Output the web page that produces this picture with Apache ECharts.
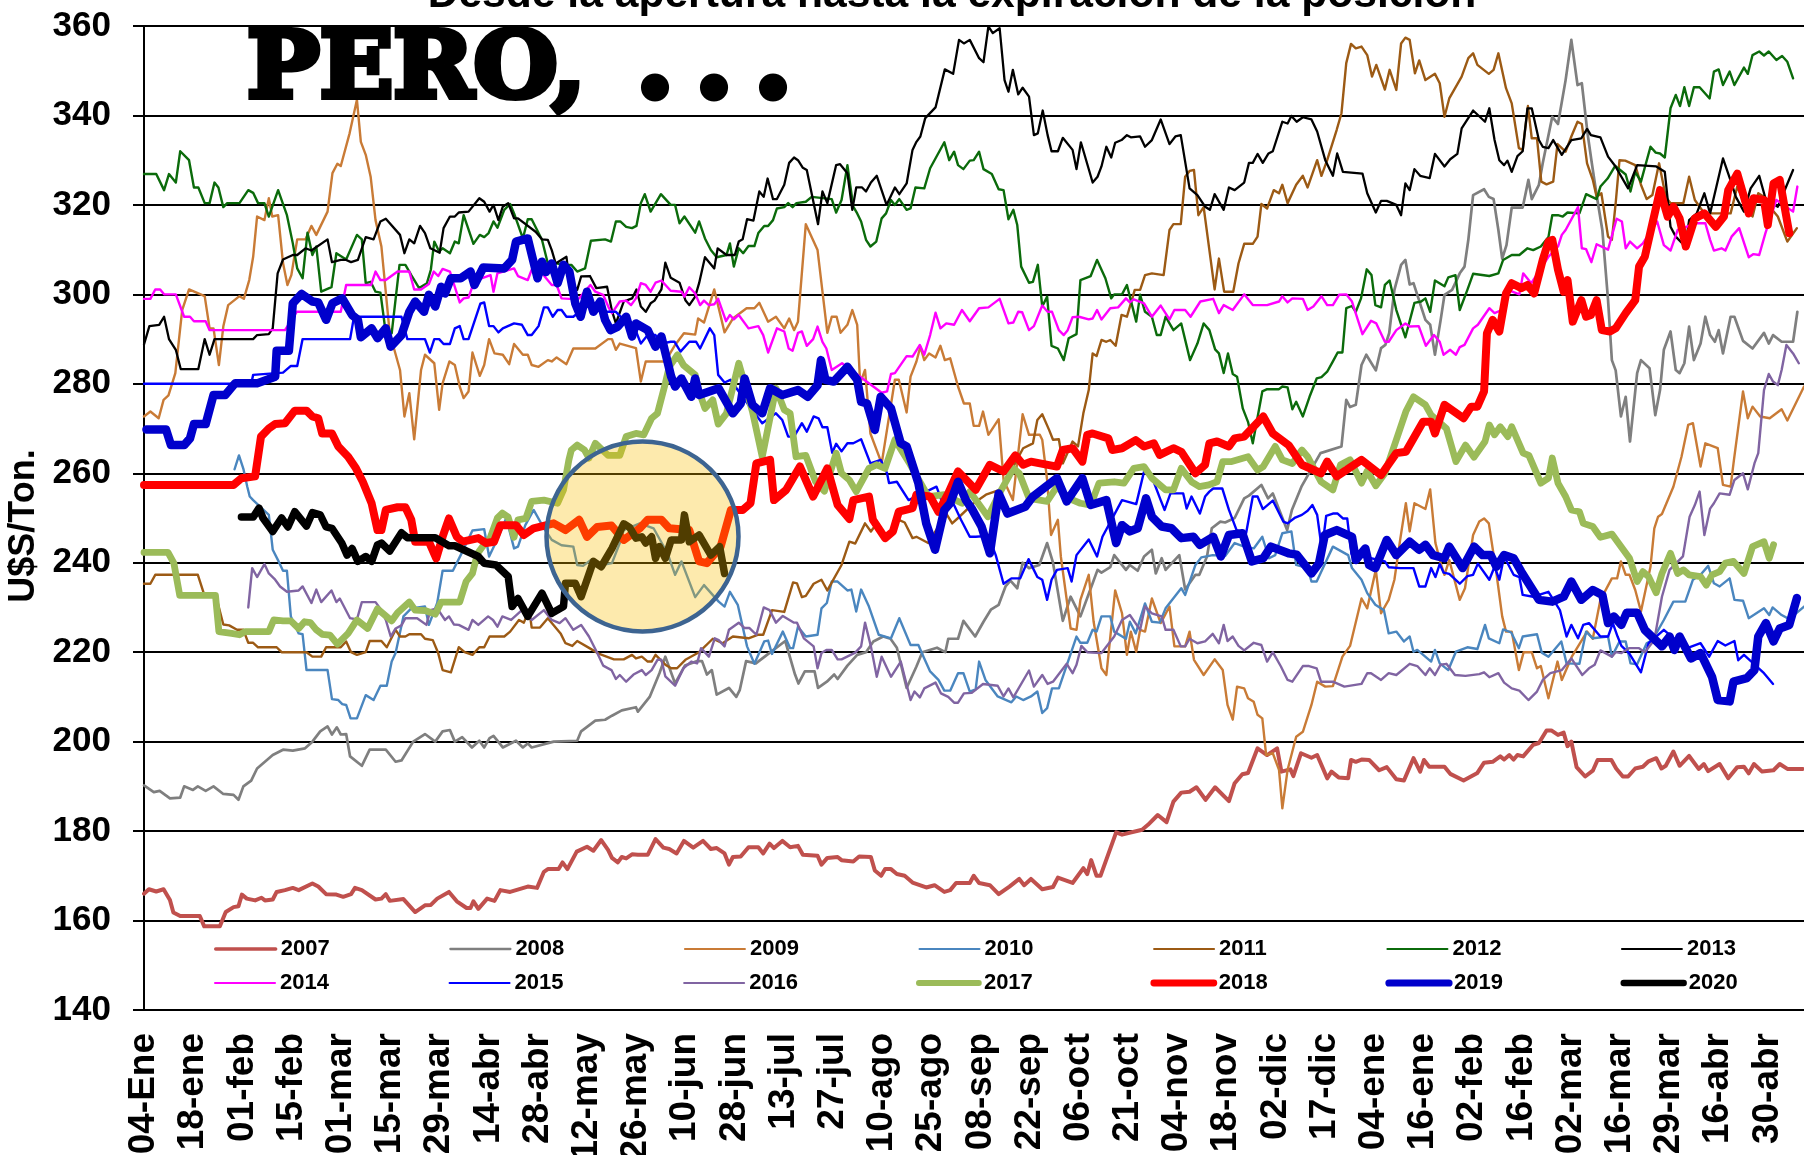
<!DOCTYPE html>
<html><head><meta charset="utf-8"><style>html,body{margin:0;padding:0;background:#fff;overflow:hidden}#c{width:1804px;height:1155px}</style>
<script src="https://cdn.jsdelivr.net/npm/echarts@6/dist/echarts.min.js"></script></head><body><div id="c"></div><script>
const tickLabels=['04-Ene','18-ene','01-feb','15-feb','01-mar','15-mar','29-mar','14-abr','28-abr','12-may','26-may','10-jun','28-jun','13-jul','27-jul','10-ago','25-ago','08-sep','22-sep','06-oct','21-oct','04-nov','18-nov','02-dic','17-dic','04-ene','16-ene','02-feb','16-feb','02-mar','16-mar','29-mar','16-abr','30-abr'];
// each series: flat list of day-index, price, day-index, price ...
const y2007=[0,166,1,167,2.5,166.5,4,167,5.3,164.6,6,161.8,7.4,161,11.4,161,12.3,158.7,15.5,158.7,16.7,161.9,18.3,163,19.3,163.2,20,165.8,21,164.9,22.7,164.5,24,165.1,24.7,164.5,26.3,164.7,27.1,166.4,28.8,166.8,30.4,167.3,31.6,166.8,34.4,168.3,35.6,167.6,37.2,165.9,39.3,165.8,40.7,165.3,42.3,165.9,43.1,167.3,44.5,166.8,47.3,164.7,48.5,164.9,49.4,165.9,50.2,164.4,53,164.8,55.4,161.9,57.4,163.4,58.6,163.5,59.9,164.9,62.3,166.4,63.9,164.3,65.9,162.8,66.7,162.8,67.3,164.3,68.3,162.6,70.1,164.9,71.6,164.4,72.8,166.8,74.8,166.4,78.4,167.6,80.3,167.3,81.7,170.9,82.5,171.5,84.7,171.5,85.5,173,86.5,171.5,88.4,175.4,90.5,176.5,91.8,175.6,93.4,178,94.8,175.8,95.6,174,96.8,173,97.6,174.2,98.5,173.9,99.7,174.8,100.9,174.7,102.9,174.7,104.5,178.2,106.1,176.3,107.3,176,108.8,175,110.3,177.8,112.2,176.3,114.2,177.8,115.8,176,117,176.2,118.6,175,119.5,172.5,120.3,174.2,121.9,174.3,123.5,176.4,125.5,176.4,126.5,175,127.8,177.2,128.7,176.2,130.4,177.8,132,176.4,133.6,176.7,134.6,174.7,137.6,174.5,138.4,172.5,139.6,174,141.7,174.2,142.5,173.5,144.9,173.2,146.1,174.3,148.5,174.2,149.3,171.2,150.6,170,151.4,171.5,152.6,171.5,153.8,170.4,155.4,170,157,168.5,159.8,167.4,161.5,167.9,163.5,166.4,164.7,166.8,165.9,168.4,168.7,168.4,169.5,170,170.6,168.4,172.8,167.9,174.6,165.9,176.8,167.6,178.8,169.3,179.8,167.9,181.2,169.3,183.5,167,185.7,167.5,186.7,169.6,189.7,168.4,191.9,171.7,192.7,170.4,193.5,173.5,194.6,170,195.4,170,198.6,179.7,199.8,179.2,203.9,180.3,205.1,181.4,207.1,183.6,208.9,182,210.3,186.6,211.9,188.6,213.6,188.8,215,189.8,216.9,187,218.9,189.8,221.8,186.7,223,190.7,224.6,192.7,225.8,193,227.8,198.5,229.8,197,231.9,198.5,232.8,193.3,234.7,193.8,235.3,192.3,236.9,197.4,239.1,196.4,240.3,197,242.4,191.8,243.3,193.3,244.8,192,246.8,191.8,247.4,195.9,248.4,195.5,249.6,196,251.2,195.9,253.3,193.6,254.9,194.3,256.9,191.6,258.5,191.3,260.5,196.3,261.9,193.3,262.7,195.9,263.8,194.4,267,194.4,268.2,192.8,271,191.3,273.9,193,275.3,195.3,277.1,195.5,278.7,196.7,279.5,196,280.6,197,281.5,196,282.3,197,283.5,196.7,285.6,199.3,286.8,199.7,288.4,202.5,289.4,202.5,290.8,201.5,292,202,292.8,199,293.6,200,294.7,194.3,296.5,192.2,298.1,193.5,299.1,195.9,302,195.9,303,194,304.4,192.2,305.5,192.2,307,194,308.6,194.4,309.8,195.6,311.4,196.3,312.5,194,313.4,194.6,315,197.8,316.3,194.6,318.3,196.8,320.3,193.9,321.4,195,322.3,193.4,324.7,195,326.5,191.8,328.4,194.3,329.8,194.4,330.8,192.9,331.9,195,333.6,193.3,336,193.6,337.3,195,338.9,193.9,342.1,193.9];
const y2008=[0,190.2,2,188.7,3.2,189,5.3,187.3,7.4,187.5,8.2,190,10,189.2,11,190,12.6,189,14.2,190,16.2,188.3,18.3,188.1,19.3,187,20.3,190,21.9,191.3,23.1,194,26.3,197,28.4,198.2,30.4,198,32.9,198.5,34.4,200,36,202.3,37.5,203.4,38.4,201.6,39.4,203.2,40.2,201.6,41.3,201.7,42.1,196.7,44.5,194.6,46.1,198.2,49.4,198.2,51.4,195.5,52.6,195.8,55,200,57.4,201.7,59.5,200,61,202.3,62.5,202.6,63.5,200,65,201,67,198.7,68.5,200.2,69.5,198.7,70.6,200.8,71.4,201.3,73.3,198.7,76,200.2,77.4,198.7,78.4,199.6,79.2,198.7,83.7,200,88.5,200.2,89.3,202.3,92.2,204.7,94.2,204.9,95.6,205.8,97.6,207,100.5,207.7,100.9,206.7,103.3,210,105.3,215.3,106.5,219,108.5,213,110.5,217,113,218,114,218,115,215,116,216,117,210.5,119.5,212,121,210,121.7,211.5,123,218,125,217.5,128,220,131,222.5,133,215,133.7,213,135,215.7,137,215.7,137.7,212,139.5,213.4,141,215,141.7,214,143.7,217,145.7,219.4,147.5,220,149,222.4,151,223.5,152.5,223,153.8,221,155.8,212,157.8,216.8,159,220,162,221,163.7,220,164.3,223,166.3,223,167.4,227,169.8,223.5,171.5,226.8,173,229.5,174.6,230.6,176,234.7,177,236,178.4,234.3,179.5,240,180.8,238.8,182.9,239.5,184.5,244.4,185.7,240,187.7,227,189.3,232.4,191.3,228,193.8,235.4,194.8,238.4,195.6,237.8,197.4,239,198.2,241.7,200.6,238.4,201.4,239.5,203,238.2,204.3,241.4,205.9,242.9,206.7,237.6,207.9,241,208.7,238.4,211.5,241.7,212.7,234,214.8,237.3,215.6,237.3,217.2,241.4,218.2,247.7,220,249.2,221,249,223,250,225,254.4,226,255,228.6,257.4,230,254.4,231,255.5,234,247.3,235,251.8,237,257,241,264.5,245.4,266,246.4,276.4,247.2,274.8,248.4,275.3,249.6,284.2,250.6,286.5,252.6,283,253.7,288,254.6,288.7,255.4,291.3,256.5,301,257.9,306.6,258.8,307.7,259.7,302.2,260.5,302.5,263,294.3,264,293.2,265,286.5,266.2,294.3,267,299.9,268.6,301,270.2,304.7,271.2,306.2,272,312.2,273,322.2,275.3,323.5,276.3,321.8,277.3,321.3,278.3,314.4,279.1,308,280,311,281.1,319.4,283.4,319.4,284.6,325.6,285.3,321.3,286.8,324.5,287.6,329.3,289.6,339.7,290.8,338.1,292.4,347.9,293.6,356.9,294.9,346.8,295.8,347.2,297,336,297.9,329.3,298.9,322.2,300.1,314.4,301.3,298.7,302.1,285.3,302.9,283,304,272.7,305,277.1,305.9,267.1,307.4,282.4,308.2,285.3,310,283.5,311.2,273,312.2,278.6,313,287.6,314.4,291.7,315.5,283.1,316.3,282.4,317.3,284.6,318.3,292.8,319.3,285.3,320.7,289,321.7,295,322.7,290.9,323.7,289.4,324.5,292,325.4,286.8,327,295,327.8,295,329.6,289.6,331.6,287.9,334,291.4,335,289,335.9,290.9,337.7,289.4,340.1,289.4,341,296.1];
const y2009=[0,272.7,1.3,273.8,3,272.3,4,276.4,5,277.4,6.4,282.4,7.8,296.5,9.2,301.1,12.4,299.6,13.4,292.4,14.2,292.4,15.3,284.2,16.2,292.8,17.2,297.6,19.5,299.6,20.4,299,21.5,303.2,22.3,308.4,23.1,317.4,24.6,316.6,25.5,321.5,26.2,317.4,27.4,317.7,28.4,307,29.3,302.1,30.1,304.3,31.3,312.3,33,312.3,34.2,315.3,35.2,313.3,37.5,318.5,38.5,327.1,39.5,329.2,40.2,328.7,42,336,43.5,343.5,44.3,334.1,45.3,331.2,46.3,326.3,47.3,316.6,48.5,310.7,50.2,291.3,52.3,283.1,53.2,272.7,54.2,277.9,55.2,267.6,56.6,283.1,57.4,286.5,59.3,284.6,60.3,274.2,61,280.1,62.4,285,63.5,284.2,64.5,279.4,65.3,276.8,66.3,278.3,67.1,287,68.6,281.8,69.5,284.2,70.5,290,71.6,286.8,73.3,286.5,74.6,284.4,75.6,288.9,77.4,286.5,78.4,286.5,79.2,284.2,80.6,283.8,82.5,285.3,83.3,285,84.3,285.9,86.3,284.4,87.7,287.9,92.2,287.9,94.8,290,95.6,290,96.4,287.6,97.2,289,100.5,288,101.5,280.5,102.5,285,106.5,285,108.5,288.7,110.3,291.3,112.6,291,113.2,294.6,114.4,293.7,116.5,301.1,118.6,291.5,120.3,294.6,123.1,296.9,124.7,296.9,125.7,298.1,127.5,293.9,129.1,295,130.8,292.4,131.8,294.6,132.8,292,133.6,293.9,135.2,315.7,137.6,309.9,139.6,291.4,140.5,295,141.5,295,142.3,291.4,143.7,293.2,144.7,296.5,145.7,293.2,146.3,280.1,147.3,283.1,148.4,268.9,150.7,262.2,153.4,280.9,154.2,280.9,155.8,273.6,156.6,281.6,157.8,285,158.6,288.3,159.4,285.3,160.4,286.8,161.7,285.9,162.7,288.5,163.6,285.3,164.7,285.7,166.3,279.4,167.5,275.6,168.7,275.6,169.5,270.6,170.6,270.6,171.4,273.8,172.5,268.6,174.6,272.1,175.6,258.5,177.5,254,179.5,273.2,180.8,268.6,183,268.6,183.5,267.5,184.5,258.5,185.3,246.2,186.7,249.6,187.3,241.4,189.3,225.3,190.5,225,191.3,231.7,193,237.3,194,226.8,195.6,216.4,196.6,214.9,198.4,233.8,199.8,228.7,200.8,219.4,201.6,224.6,202.7,220.1,203.5,225,204.5,224.6,205.9,232,207.7,226.5,209.5,230.2,210.5,221.3,212.7,221.3,213.6,224.6,214.5,218.3,216.5,214.9,218.8,218.4,220.5,216,221.5,208.2,222.6,204.9,223.5,212.3,225,211.9,225.8,209.7,227,208.9,227.8,206,228.8,205.2,229.6,197,231,197.4,232.3,193.7,233,185.1,234.1,193.7,235.9,201.1,237.3,202.2,239.1,208.2,240.3,213.4,242,212.3,243.6,212.4,245.6,219,247.2,221.4,249.6,232,250.8,229.8,252.6,238.4,253.7,228.7,255.3,231.7,256.5,236.2,257.7,245.1,258.9,253.3,259.7,247,260.7,253.3,263,252,264,256.4,265.1,244.4,266.2,239.9,267,237.3,268,240.6,270.2,231.7,271.3,234.3,273,246.2,274.3,249.2,275.3,249.9,276.3,248.8,277.9,237.6,279.1,228,279.9,224.6,281.1,224.6,282.6,216,283.6,220,285.3,220,286.4,216.4,287.2,216.9,288.8,209.7,290.7,217.9,291.6,213.8,293.7,219,296.9,224.6,298.1,223,299.7,231.7,302.1,236.5,303.2,236.5,304,240.3,305,237.3,305.8,237.3,307,233.9,308.2,229.1,310.2,239.1,311,247.7,311.8,250.3,312.6,250.9,315,257,316.7,263.7,318.1,270.8,319.1,271.2,320.7,261.5,321.7,266.7,324.3,265.6,325.4,257.4,327,257,327.7,263,329.6,278.3,330.6,272.3,331.6,274.9,333.2,272.7,335.2,272.3,337.7,274.3,338.9,271.8,342.4,279.4];
const y2010=[18.5,260.9,19.4,264,20.3,261,21.1,257,21.6,254.8,22.3,254,25.5,250.7,26.3,242.9,27.5,240.3,28.4,238.2,29.2,238.2,30,228,31.6,224.2,32.4,224,33.2,216,37.5,216,38.4,209.5,39.7,209.3,40.5,208.4,41.3,208.2,42.2,205.2,43.5,205.2,45.3,210.4,46.9,209.3,48.3,212.5,49.6,212.5,50.6,217.9,51.4,219.8,53,228,54.6,229.8,57.4,230.2,58.2,226.1,59.9,231,61,238.2,63.1,238.2,64.7,241.7,67.1,247.2,69.5,247.5,70.5,241.4,72.5,246,74,250,75.6,243.2,76.4,243.6,77.9,248.4,79.6,251.8,81.7,247.7,83.3,245.1,85.3,243.9,87.7,243.6,88.5,239.5,89.7,239.3,91.3,240.6,93.5,239.5,95.6,239.9,97.2,244.4,98,247.3,101.3,248.8,104.1,247.7,107,242,108.5,237.3,109.8,240.3,112.6,232.3,114.4,235,117.4,231.3,118.6,230.2,119.7,233.5,121.3,230.6,123.2,221.3,124.7,217.4,126.7,222.4,127.5,222.6,128.3,219.6,130.5,224.6,132,220.9,132.6,220.9,133.6,225.7,135.2,223.5,137.6,223.9,138.4,229.8,139.5,231,140.5,235.8,141.7,235.8,143.7,233.8,144.5,234,145.5,229.1,146.5,234,148.1,230.2,150.1,223.9,152.6,223.1,154.3,227.6,156.6,221.6,158.2,221.6,159.4,218.6,160.6,215.7,162.3,213.8,163.5,211.4,164.7,211.4,166.3,215.3,167.4,215.3,168.7,211.2,169.9,211.7,170.6,217.9,171.9,213.8,174.4,210.1,177.2,208.8,178.2,210.1,179.6,209.3,181.2,210.1,182.5,211.2,183.5,206.4,184.5,207.5,185.5,211.9,186.9,211.9,190.5,223.5,191.3,222.1,192.7,222.1,193.8,225,194.6,224.6,195.6,228,197.4,228,198.2,224.6,200.6,223,201.4,226.8,202.6,224.2,204.5,230.9,205.9,226.8,207.5,226.6,208.7,229.8,211.9,234.3,212.7,232.8,214.8,239.5,216,241.2,218.4,241.7,221,241.5,223,244.4,225,243.6,227,243.2,228.8,245.8,230.2,241,231.5,241.7,233,246.6,234.9,247,235.9,239.5,238.3,238.8,239.1,235.8,240.2,235.8,243.6,243.6,246.8,241.7,247.6,238.8,249.6,236.2,250.8,233.2,252.5,230.6,254.3,229.4,255.3,224.2,256.9,224.6,258.5,222.4,259.7,223.5,260.5,220.1,261.3,220.5,264.2,217.9,265,220.5,266,217.5,267.8,216,269.4,220.1,271.8,221.1,273.9,220.7,275.5,226.1,276.3,223.1,278.5,222,279.3,225.1,281,224.4,282.6,220.9,283.4,223.5,286.4,224,287.4,219.9,288.8,219,291.5,222.4,292.6,217.5,295.3,217.4,296.7,224.6,298.1,223.1,301.3,223.5,302.1,219,303.7,222.4,305,222.4,306,217.5,307.4,217.3,309.4,222,310.6,222.7,313,227.2,315,231.3,317.5,231.3,319.1,236.2,320.7,237.3,322.3,239.3,323.5,235.4,324.7,234.7,326.8,236.5,327.8,231.7,329.6,231.5,330.8,227.6,334,229.8,335.1,228.3,335.8,230,337.7,228.3,339.3,227.4,342.4,230.2];
const y2011=[0,235.3,1.3,235.3,2.3,237.3,11,237.3,12.2,233.2,14.6,233,16.2,226.2,17.4,226,19,225,20.3,225,21.3,222.1,22.3,222.1,23.3,221.1,27.1,221.1,28.1,220,33.2,220,34.4,219,36.2,219,37.2,221.1,40.2,221.1,41.3,222.4,42.3,220,43.5,219.4,45.3,220,46.1,222.5,48.5,222.5,49.6,221.1,51.4,225,52.3,223.5,53.4,223.5,54.2,224,56.6,224,57.4,223,59,222.7,60.1,219.8,61,216,62.7,215.5,64.3,221.1,65.5,220,67.1,219.4,68.5,221.1,69.5,221.1,70.6,223.5,73.6,223.5,74.8,224.6,76.6,227.2,77.6,226.6,78.7,229.5,79.2,225.5,80.9,225.5,82.5,227.6,85.1,224.2,86.1,222,87.5,221.4,88.5,222.5,91,220.9,93,219.6,96,218.4,98,218.4,99.7,219.4,100.5,218.6,101.7,219,102.9,217.9,103.7,217.9,104.5,219.4,106.5,217.2,107.7,216.4,108.9,216.4,110.6,218.3,113.4,220,116.2,223,118.2,222,120.3,223.5,123.5,223.1,125.5,223.9,126.5,223.9,128.3,229.4,130.8,229,132.6,235.6,133.4,235.4,134.4,232.3,135.2,232.6,136.8,235.3,138.4,236.2,139.6,233.8,142.5,239.5,144.1,244.7,145.3,244.3,147.3,248.8,148.5,247,149.7,248.8,151.4,245.1,154.2,249.6,155.4,249,157,245.5,157.8,245.8,160.2,244.4,163.9,251,165.1,248.8,166.3,250,169.5,253.3,172,255.2,174.8,256.3,177.2,260.7,179.6,265.6,181.6,266.7,182.5,271.9,183.5,273.2,184.9,269.7,185.7,267.5,186.9,267.6,187.7,262.2,189.7,267.1,190.8,266,191.9,273.4,193,278.6,193.8,286.8,194.6,286.2,195.6,289.8,196.6,289.4,197.4,289.8,198.5,288.5,199.7,295.4,200.8,295,201.8,298.7,202.4,301,203.5,301,204.5,304.3,205.9,304.7,208.3,304.3,209.5,314.4,210.3,315.7,211.8,315.7,212.7,326.3,213.6,327.6,214.5,327.8,215.4,317.7,216.5,319.5,217.7,309.9,218.8,301.1,219.7,308,220.8,300.6,222.7,300.6,223.8,306.9,225,311.3,226.8,311.3,227.8,312.9,228.6,320.2,229.8,319.2,231.2,323.3,232.3,322.6,233,324.5,234.1,320.4,235.9,324.5,237.3,326.5,238.3,323.9,240.3,330,241.2,326.5,242.4,330,244.4,336.8,245.4,340.5,246.4,351.7,247.4,356,248.4,355,249.6,355.4,250.8,353.5,251.8,348.7,252.7,351.3,254.5,345.8,255.5,350.2,256.9,345.7,257.9,356.1,258.8,357.4,259.7,356.9,260.8,349.4,261.7,352.3,263,347.9,265,349.3,266,347.2,267,339.7,268,343.8,270.6,348.7,272,352.8,273,353.9,273.9,351.3,276.3,349.3,277.3,350.2,278.3,353.9,279.9,346.1,281.1,342.7,282.6,332.7,283.4,332.3,284.5,342.1,285.3,334.9,286.4,334.9,287.3,325.2,288.4,324.6,289.8,325.2,290.7,333.6,292.4,331.9,293.6,335.3,294.9,338.6,295.8,338.1,296.9,329.3,298.1,325.6,298.9,321.8,299.9,322.6,301.3,312.9,302.1,312.2,302.9,320.4,303.7,330,304.9,329.9,307,328.9,308.2,324.5,309.4,321.3,310.6,322.2,312,329.3,313.4,321.8,314.4,320.4,317.1,320.4,318.3,326.3,319.5,321.1,321.5,318.1,323.9,318.1,327,318.1,328.4,324.1,330.4,318.9,331.6,317.4,332.8,322.6,334,321.8,335.2,319.6,336.9,317.4,338.9,311.8,340.9,314.8];
const y2012=[0,326.9,2.5,326.9,4.1,323.3,5.1,326.9,6.5,325,7.4,332,9.2,330,10.2,323.9,11.1,323.9,12.4,320.4,13.4,320.4,14.4,325,15.2,323.9,16.2,319.5,17,320.4,19.5,320.4,21.3,323.3,22.3,322.7,23.3,320.4,24.6,320.4,25.5,317.4,27.4,323.3,29.2,317.7,30.4,311.4,31.3,305.8,32.4,303.6,33.4,313.8,34.4,308.8,35.2,310.7,36.2,300.6,38.3,301.6,39.3,309.2,41.3,307.8,43.5,313.3,44.5,312.3,45.3,302.5,46.3,302.8,47.3,300.6,48.3,300.4,49.4,291.3,50.6,291.3,52.2,306.6,53.4,306.6,54.6,304.3,56.2,301.4,57.8,302.5,58.6,305.5,59.3,311.8,60.3,309.6,61,310.3,62.5,309.2,63.5,311.8,64.3,311.4,65.3,317.7,67.3,311.3,68.6,313.3,69.5,312.8,70.4,313.7,71.4,316.3,72.2,314.9,73.6,318.9,74.8,320.2,75.6,318.1,77.4,312.5,78.4,316.8,79.2,316.8,81.3,312.2,82.5,306.9,84.5,306.9,85.7,306.6,87.3,306.6,88.5,305.1,90.1,305.8,91.3,312,94.2,312.3,95.4,311.8,96.4,316.3,97.3,316.3,98.5,315.1,99.7,314.8,100.6,315.3,101.5,320.4,102.3,322.4,103.5,318.5,105.6,322.4,107.6,320,108.5,320,109.4,315.9,110.4,317.4,112.6,313.8,113.4,316.3,114.6,312.5,115.8,309.9,117,308.3,119,308.8,119.7,311.4,120.5,306.2,121.5,310.3,122.4,309.2,123.5,310.8,124.7,310.8,125.5,313.7,126.7,315.3,127.5,315.3,128.5,316.6,129.3,319.2,130.8,319.5,131.6,320.4,132.5,319.5,133.3,320.4,135.2,320.7,136.4,321.8,140.5,321.3,141.4,318.3,142.5,321.1,143.7,328.9,144.9,319.6,145.7,318.1,146.5,316.3,147.5,312.2,148.4,310.7,149.6,311.8,150.7,317,151.6,318.1,152.6,321.1,153.4,320,154.3,321.3,155.8,318.9,156.6,319.2,157.6,323.9,159.4,323.7,160.6,328.2,163.5,334,164.5,330,165.5,331.9,166.3,328.9,167.4,328,168.7,329.9,169.5,330,170.6,331.9,171.5,328,173.2,326.9,174.6,323.5,175.6,323.3,176.6,316.8,177.6,318.9,178.4,315.5,179.2,306.2,180.8,302.6,181.6,302.8,182.6,306.6,183.5,297.3,184.5,299.5,185.4,288.5,186.7,287.9,187.9,285.3,188.9,290.2,190.5,291.1,191.3,303.2,193.4,304.1,194.7,307.7,196.4,303.6,197.6,299.1,198.2,300,199.8,300,200.8,302.1,202.7,293.9,203.5,299.9,204.5,296.1,205.9,295,206.9,290.9,207.7,290.9,208.7,295,210.3,292,211.9,293.5,213.7,285.3,215.2,289,216.5,293.5,217.7,292,218.9,287.7,219.7,286.8,220.7,282.4,221.6,286.8,222.6,282.2,223.5,281.6,224.7,274.5,225.8,271.5,226.8,266.7,228.8,278.3,229.8,278.8,232.3,278.8,233,279.4,234.1,279.2,235.1,274.3,235.9,276,237.3,272.7,238.7,277.1,240.2,281.2,241.2,281.5,242.4,282.7,243.6,285,244.6,287,245.6,287,246.4,296.9,247.6,297.4,248.4,296.1,249.5,299.1,250.7,305.6,251.7,304.3,252.5,297.6,253.7,297.1,254.5,302.1,255.5,303.1,256.9,296.5,258.8,290.4,260.7,298.1,262.1,298.4,263,299.1,264,296.1,265,303.1,267,301.8,267.8,303.8,269.3,304.3,270.2,296.5,271.8,301,273,304.6,276.4,304.1,278.3,304.7,279.3,307.7,281.1,308.8,282.7,308.8,284.4,310.3,285.6,309.9,287.2,310.7,288.8,312.8,289.6,317.7,290.8,317.7,291.8,317.4,292.8,318.3,295.3,318.1,296.7,322.4,298.9,321.3,299.7,324.1,301.2,325.9,302.8,328.7,305,326.8,306,323,307,327.4,308.2,325.2,310.2,333,311.3,331.7,312.2,331.5,313.2,330.6,314.4,341.6,315.5,344.6,316.4,342.1,317.3,346.3,318.3,342.1,319.3,346.3,320.5,346.3,322.6,343.8,323.5,349.8,324.5,350.3,325.4,346.8,326.8,349.8,327.8,346.8,329.8,350.7,330.6,349.3,331.6,353.5,333,354.3,334,353.4,335,354.3,336.6,352.4,337.8,353.3,338.9,352,340.1,348.3];
const y2013=[0,288.8,1.1,292.9,3.1,293.2,4.1,295,5.1,290,6.5,287.6,7.5,283.3,11.1,283.3,12.4,290,13.4,286.5,14.4,290,22.3,290,23.1,290.9,25.5,291.1,26.3,292.4,27.3,304.7,28.4,307.8,30.4,308.8,31.3,308.8,33,310.3,34.2,309.8,37.5,312.3,38.4,307.2,40.2,307.7,41.3,307.7,42.3,307.2,43.7,307.7,45.3,312.8,46.9,312.3,48.3,316.3,49.4,316.9,52.3,313.3,53.2,309.2,54.2,312.3,55.2,311.4,56.4,315.3,57.4,313.7,58.5,310.3,60.4,309.3,61.2,314.8,62.5,317.4,63.5,317.4,64.3,318.3,66.3,318.5,68.5,321.5,69.5,320.7,70.6,318.5,71.4,320,72.4,316.6,73.3,319.6,74.4,320.4,75.6,317,76.4,317,80,314,81.3,312.3,82.5,312.2,83.3,309.9,84.1,306.9,86.3,308.4,86.9,303.2,88.5,301,89.3,304,91.1,304.1,92.4,301.4,94.6,301.7,95.6,296.3,96.4,293.5,98,298.4,99.7,299.1,100.6,301.1,101.5,297.3,102.5,296.1,103.5,298,104.3,298.6,105.7,301.1,106.5,307.1,107.6,303.7,109.4,302.6,110.6,298.7,111.4,297.6,112.6,299.5,113.4,302.5,114.6,308.3,116.5,305.8,117.2,310.3,119,308.8,120.7,308.8,121.5,311.8,122.3,312.3,123.2,316.8,124.5,316.5,125.7,323,126.6,321.8,127.4,325.9,128.5,321.3,129.3,321.3,130.8,324.5,131.8,329.4,132.8,330.6,133.6,330,134.6,328.3,135.4,327.8,137.7,315.7,138.6,323,139.6,320.4,141.4,328.9,142.2,329.1,143.7,327.1,144.7,318.9,145.5,323.9,146.7,323.9,147.5,323,148.5,325,149.7,326.5,151.7,320,153.4,323.9,154.3,322.4,155.8,324.8,157,332.3,157.8,334.1,158.6,335.3,159.6,339.4,161.7,341.8,163.6,350.3,165.3,349.3,166.5,356.9,167.5,356.1,168.7,356.9,170.6,352.8,171.5,351.9,172.5,359.9,173.4,358.4,174.8,359.5,175.8,347.9,176.6,345.3,177.5,350.2,178.6,344.7,179.5,346.2,180.8,344.2,181.8,335.6,182.6,336,183.6,341.1,184.6,335.6,185.4,332,186.7,332,187.7,335,189.7,332.3,190.5,328,191.4,334,193.8,325,194.8,326.3,195.6,328.6,196.6,333,197.6,330.6,198.4,333.9,199.7,334.5,200.8,335.6,201.6,335.1,203.5,335.3,204.5,333,205.9,334.5,207.7,339.1,209.5,333.6,210.7,335.3,211.8,335.6,213.6,323.7,215.2,322.2,216.8,319.6,217.8,318.9,218.8,322.4,220.7,318.9,221.8,323.9,223,323.3,225,325,226,329.4,226.8,329.4,227.8,331.4,228.9,329.4,230.1,331.5,231,332,233,338.6,234.1,338.2,234.9,339.9,236,338.6,237.3,339.6,239.1,339.1,240.3,336.4,242,330,243.6,326.5,244.5,331.5,245.7,327.4,249.8,327,250.8,322.6,252.6,318.3,253.7,320.9,254.9,320.9,256.9,320,257.9,317.7,258.8,324.8,259.7,323.3,260.7,328,261.9,326.5,263.9,326,265,331.4,267,328.6,268.2,330.2,269.7,331.4,270.6,337.1,273,341.1,275.5,338.6,276.4,341.6,277.5,334.5,278.5,330,279.5,328.9,280.2,329.9,281.1,327.4,282.3,330.9,283.4,332,284.4,341.6,285.3,341.6,286.8,334.5,287.6,333,288.8,332.7,289.8,334.5,291.6,331.2,293.6,334.5,295.7,334.9,296.9,337,297.7,335.6,299.7,335.1,301.3,330.8,302.8,328.7,305.5,323.7,307.4,328.9,311.4,328.6,313.2,327.4,314.4,315.1,315.5,312.9,317.5,310.7,318.3,316.6,319.9,318.1,321.5,322.6,322.7,318.1,325.4,330.4,327.2,324.8,328.1,321.8,329.8,318.5,331.2,323.7,333,326.5,334.4,321.1,336.9,319.6,340.1,327.8];
const y2014=[0,299,1.3,299,2.3,301.1,3.3,301.1,4.1,300,6.5,300,8.2,295,9.4,295,10.2,294,12.6,294,13.4,292,28.8,292,31.2,296.1,40.2,296.1,41.3,302.1,46.4,302.1,47.3,305.1,48.3,303.2,49.4,303.2,51.8,305.1,54.2,305.1,55.2,301.1,56.6,301.1,58.2,302.3,59.2,305.1,60.1,304.1,61,305.7,62.5,305.1,63.5,301.7,64.5,298.2,65.3,299.1,66.3,299.3,67.5,303,70.8,304.3,71.4,300.6,72.2,304.7,75.6,305.8,76.4,304.1,78.4,303.2,79.2,305.5,81,305.1,83.3,302.1,84.3,302.1,85.3,299.1,86.9,299,88.9,299.1,89.7,300.2,91.2,302.1,92.2,300.6,93.8,299.9,95,296.9,95.6,295.8,97.2,298.4,98.5,298.6,99.5,297.6,100.5,299.1,101.5,302.5,102.5,302.1,103.5,300.6,104.5,302.6,105.7,303.1,107.6,300.8,109.8,300.6,110.4,299.5,111.4,301.6,112.6,300.2,113.6,297.6,114.4,298.6,115.4,297.6,116.5,297.8,117.3,299,118.9,294,119.7,295.4,120.5,294.4,121.5,295.4,123.5,292.4,125.5,292.9,126.5,290.9,127.5,287,129.3,292.4,130.8,291.7,131.7,287.9,132.5,287.4,133.6,291.4,134.4,291.7,135.4,288.5,136.7,290,137.6,292.8,138.6,289.4,139.4,287.9,140.5,283.1,142.6,284.6,150.7,278,151.8,278.3,152.6,282.2,153.4,282.4,155.8,286.2,157,286.1,158.5,288.7,159.4,286.5,160.6,290.9,161.7,295.9,162.7,292.4,163.9,293.5,165.5,293.2,167.1,296.5,168.7,294,170.6,296.9,172.5,297.1,174.8,299,176.6,293.5,177.6,293.7,178.6,296.1,179.4,296,180.8,292,181.8,292.9,183.5,297.5,184.6,296.1,185.5,296.1,186.9,292,187.9,290.9,188.7,292,189.7,294.9,191,295,193,294.4,193.8,294.6,194.7,296.5,195.6,294.4,197.4,296.9,199,297.1,200.6,299.1,201.4,298.2,202.2,298.9,204.3,298,205.9,295,207.7,297.5,209.5,294.4,210.5,296.5,212.7,296.5,213.8,295,215.8,298.4,218.5,299,219.7,295.8,220.7,297.6,222.6,296.5,225,300,226.8,297.6,229.8,297.6,232.3,298.4,233,299.6,234.1,298.2,235.1,299.1,237.3,299,238.3,296.5,239.5,297.3,241.2,299.6,242.4,297.6,243.6,297.6,244.9,299.9,246.4,300,247.6,298.4,249.8,291.1,251.6,294.1,252.7,293.5,254.5,289.4,255.3,289.4,256.9,292,258.8,293.5,259.7,292.8,261.6,292.9,263.1,288.5,264.8,290.9,266,289.4,266.8,286.5,268.2,287.6,269.4,286.5,270.2,288.2,271.2,288.7,273,292.4,274,293.2,276.4,296.9,277.5,295.8,279,296.5,280.3,301,282.7,300,283.5,304.7,285.2,302.5,288.8,308.4,290.8,310.7,291.6,313.3,292.4,314.4,295,319.5,295.8,310.3,296.7,310.1,297.8,307.2,298.9,311.2,301.3,310,303.1,316.9,304.2,316.3,305,310.3,305.9,311.8,307.4,310.3,308.6,311.4,311.6,316.3,313,311,314.4,309.8,315.9,314.4,319.9,315.9,321.7,315.9,322.7,312.2,323.5,309.8,325.1,310.3,325.9,309.8,327.2,312.9,328.8,314.8,330.8,308.3,331.8,309,333,308.8,334.3,313.7,336.6,321.1,340.1,318.5,341,324.1];
const y2015=[0,280,21.9,280,22.3,282,28.4,282.5,30,284,31.3,284,32.4,290,42.1,290,42.9,295,52.6,295,53.8,290,57.4,290,58.4,287,59.3,290,60.3,290,61.2,288.9,62.5,288.9,63.5,292.4,64.5,292.9,65.3,290,66.3,290,68.7,297.9,69.5,298.2,70.5,292.9,71.4,292.9,72.4,291.5,73.3,292.4,75.6,293.5,77.2,293.2,78.4,290.9,79.2,290.9,80.6,292.9,81.7,297.1,82.5,297.1,83.5,295,84.5,296.5,85.3,296.5,86.3,295,87.7,295,90,297,93.2,298.4,94.4,296.1,96.4,296.1,98,294.3,100,293.2,101.5,289,102.9,290.9,104.5,290.9,105.7,289,107.6,289.4,108.4,289.4,109.6,287.2,111.4,289.4,112.8,289.4,113.6,287.9,115.6,292.4,116.5,290.9,117.3,282,118.6,280.3,119.8,280.9,123,276,126.3,271.2,129.1,273.4,130.4,271.9,131.6,268.2,132.8,268.2,134.4,271.2,135.4,269.3,136.8,272.7,137.8,272.3,138.6,270.3,139.6,270.3,140.6,264.6,141.4,266.6,142.5,264.9,143.7,266.7,144.9,266.7,146.5,267.6,148.4,262.2,150.5,263,151.8,260,152.2,257.8,153.8,258.1,156.2,254,161.9,257,162.8,254.3,165,254,166.9,249.6,168.7,245.8,169.9,245.8,172.5,246,174,241.7,175.6,235.3,177.2,236.5,179,236.5,180.7,240.8,182.5,236.8,183.5,236.2,184.5,231.7,185.4,236.2,186.5,238.4,188.7,238.8,189.5,235.8,190.5,241.7,193,245.2,194.7,241.4,195.8,245.8,199.8,254,202.7,253.1,204.3,260.4,205.6,260,207.7,254,208.5,251.8,209.7,255.5,212.3,255.5,213,252.1,214,254.8,215.7,251,216.8,254.8,217.7,255.9,218.5,256.6,220.4,256.6,221.8,251.8,223.4,247.3,225.4,246.6,226.8,254.8,227.8,254.8,228.9,252,231,253.9,233.2,249.2,234.1,248.8,235.7,250.1,237.1,250.7,238.3,251.6,239.3,252.9,240.3,250.7,241.3,242.9,242.2,250.5,243.6,251,244.6,251,245.7,249.9,246.6,249.9,247.5,242,254.5,240.3,255.3,239,257.7,238.8,260.5,238.8,261.7,234.7,263,234.7,264.2,238.8,265.1,236.8,266,239.7,266.8,237.8,268,237.5,270.2,235.3,271.8,237,273,237.3,274,239.8,276.4,236.2,277.5,239.1,278.5,236.2,279.5,241.4,281.5,237.3,282.7,236.8,283.4,232.8,285.6,232.4,288.8,233.5,291.2,229.4,292.6,223.5,293.6,226.1,295,223.1,296.1,226.1,297.3,226.5,299.7,223.5,301.3,223.5,302.3,226.5,303.3,223.5,304.1,221.4,305.7,219.8,308.2,215.5,309.8,222,313,225,315.5,222.7,317.9,220.9,320.7,222,322.5,219,324.3,222.5,325.9,221.5,327.8,222.5,328.6,218.2,329.8,219.4,334,215.3,335.9,212.9];
const y2016=[21.3,230,22.1,238.8,23.1,236.8,24.6,239.7,25.5,237.6,26.8,236.2,27.8,234.7,29.2,233.5,31.6,233.8,32.4,234.7,34.2,231,35.2,234,36.2,231.2,38.3,233.8,39.3,231.2,40,232,42.1,227.6,43.5,227.3,44.5,231.2,47.3,231.2,48.5,229.4,49.4,227.2,50.4,223.5,51.4,225.3,52.6,226,53.4,227.6,55.8,227.6,57.7,226.1,58.5,229.4,59.9,229.8,61.5,227.2,62.3,228,63.3,226.2,64.3,226.1,66.3,225,67.1,227.2,68.3,226.1,70.3,228,71.3,227.2,72.2,225.7,73.2,228,75,227.2,77.2,229.4,79.2,227.2,81.7,229.4,83.3,227.2,84.9,226.5,86.1,227.6,87.7,225,89.3,226.1,90.9,223.5,92.6,219.8,93.8,217,95.5,216,96.4,214,97.2,214.9,98.5,213.4,100,215,101.7,216,102.5,214.9,103.7,216,104.9,218.3,105.7,218.3,106.5,214.6,108.5,212.5,110.2,216.4,111.8,217.9,113,217.5,113.8,220.9,115.4,219,116.6,223.1,117.4,222.7,118.6,221.3,119.5,225,121.5,226.6,122.7,225.4,123.7,225.4,125.1,223.9,126.6,230,127.8,229.4,129.1,226.6,130.5,228.1,132.8,226.6,133.4,226.6,134.8,223.1,136.8,221.3,137.6,216.4,138.4,219.8,139.4,220.5,140.5,220.5,141.7,218.4,142.5,218.4,145.3,219.9,146.5,221.3,147.3,226.6,148.5,221.3,149.7,214.5,150.7,219,152.6,214.5,154.6,217.9,156.6,209.3,157.4,211.2,158.5,209.9,159.4,211.9,161.7,213.2,162.8,210.8,164.3,210,165.5,208.7,166.3,208.7,167.5,210.8,169.1,210.9,171.4,212.9,174.4,212.5,175.6,210.1,176.6,211.9,177.6,209.9,180.8,215.9,181.8,212.3,183.5,214.9,184.6,212.9,185.7,213.4,188.5,217.4,189.7,215.3,190.5,217.2,191.5,221.4,192.7,220,195.6,219.8,198.2,223.5,199.8,227.2,201.4,228.3,203.5,225,204.5,230.2,205.9,228.7,207.9,228,208.7,225,210.3,225,211.8,221.3,212.7,221.3,213.6,223,215.2,222,216.8,222.4,218.4,224.1,219.7,222,220.7,226.1,221.5,222.5,222.6,223.5,223.8,221.4,225,220.4,227,222.1,228.6,221.6,229.8,217.9,231,220,232.7,216.8,234.1,213.8,235.1,213.4,237.3,216.9,238.6,216.9,240.2,216.4,241.1,213.4,243.6,213.4,246,212.3,249.6,212.9,250.8,215.3,251.6,215.3,253.7,213.8,255.3,215.3,256.9,214.9,259.7,217.4,261.3,216.9,263,214.9,263.9,216.4,265,214.9,266.2,217.2,267.4,217.4,269.2,214.9,271.4,214.7,274.3,215.1,275.3,215.5,276.4,214.4,278.3,215.3,279.5,213.2,281.1,211.9,282.7,211.4,284.6,209.3,286.4,211.2,287.6,213.8,289.2,215.3,291.6,216,293.6,218.6,295.9,214.9,297.3,216.4,298.5,217.2,299.7,220.4,302.1,219,302.9,220,304.1,219.8,305.7,220.9,307.8,220.9,309,220,311,222.7,312.6,232.4,314.2,238.4,317,241.4,318.4,250.3,319.5,252.9,320.5,255.9,321.5,246.2,322.7,252.1,323.5,253.3,324.7,255.5,326.8,255.2,327.8,258.5,329.6,260,330.6,256.4,332,262.2,332.8,264.5,334,278.6,335,282.2,335.9,280.5,336.9,279.7,337.7,283.1,338.7,288.7,340.1,286.8,341.3,284.6];
const y2017=[0,242.3,4.9,242.3,6.1,239.9,7.3,232.7,14.6,232.7,15.3,224.6,17.9,224.2,19.5,223.9,20.7,224.6,25.5,224.6,26.5,227.2,28.4,227,30,227,31.6,225.3,32.8,226.8,34,226.6,35.2,225,36.4,224,38,223.8,39.5,221.8,41.7,224.2,43.5,227.2,45.7,225.3,47.7,229.7,50.6,227,51.8,228.8,54.2,231.2,55.4,229.4,57.4,229.3,59.5,228.5,60.7,231.2,64.5,231.2,65.8,235.8,67.1,237.6,68.1,242,69.1,243.5,70.7,245.5,72.2,250,73.2,251.1,74.4,250.2,75.6,245.7,76.4,249.6,78,249.9,79.2,253.7,81.7,254,84.5,253.3,85.7,256.3,86.8,263,87.3,265.2,88.5,266.3,90,265.2,90.9,263.4,92.2,266.7,94.8,264,97.2,264,98.5,268.2,100.5,268.9,102.1,268.6,103.7,272.3,104.9,273.4,106.5,280.1,107.3,283.8,109,286.5,110.2,284.2,112.6,282,113.4,278.3,114.6,274.5,116.2,276.4,117.3,271,119,273.4,121.5,284.6,124.3,273.8,126.3,263.7,129.1,279,130.8,274.2,132,273.4,133.2,263.7,135.2,264,137.2,258.1,139,256,141.4,264.5,142.5,260,144.1,258.5,145.5,255.9,148.1,261.1,149.7,261.9,151.4,261.1,153.4,267.5,156.5,262,160.2,254.8,163.5,255.2,167.1,253.3,168.7,255.9,172.4,250.3,175,256,177.6,261.1,178.8,260,180.8,254.4,184.5,253.7,186.5,257,188.9,254.4,191.3,253.3,193.4,252.9,195.1,257.8,198.2,258.1,200.2,257.8,202.2,261.1,204.3,261.5,205.9,258.9,208.7,256.3,210.3,256.3,211.9,261.1,214,258.1,215.6,257,217.6,257.4,219.3,258.1,220.5,262.6,222.2,262.6,225.8,263.7,227.8,260.7,229,261.5,231.5,266,233,263,235.1,262.2,237.1,265.2,238.3,263.7,241.1,258.1,243.6,256.3,245.2,261.9,247.2,263,249.6,257.8,250.8,260.5,252.6,257.2,254.5,260,256.9,267.5,258.9,273.8,260.5,277.1,263,275.3,264.2,273,267.4,270,269.4,262.6,271.4,266.3,273.2,263.6,275.5,267.1,276.4,270.8,277.5,268.6,278.7,270.4,280.3,268.2,281.1,270.4,283.5,264.5,284.7,264,287.2,257.8,288.8,258.9,289.6,263.4,290.8,257.8,292.4,254.8,293.6,251.8,295.3,251.4,296.1,248.8,298.1,248.1,299.7,245.7,302.1,246.4,304.5,242.9,305.8,241,307.4,235.8,308.6,238,309.8,236.9,311.4,233.3,312.6,237.6,314.4,242.1,315.9,237.6,317.1,238.4,318.3,237.3,320.7,236.9,321.9,235,323.1,237.3,324.7,238,325.9,239.9,327.6,240.3,329.8,237.6,331.6,243.6,334,244.7,335.1,241,336,244];
const y2018=[0,257.4,18.3,257.4,19.9,258.9,22.7,259.3,23.9,268.2,25.5,270,26.8,271,28.8,271.2,30.8,274,33.2,274,34.4,272.7,35.6,272.3,36.4,268.9,38.4,268.9,39.7,266,41.7,263.7,43.3,261.1,44.7,258.1,46.5,253.3,47.7,247.3,48.5,247.3,49.4,251.8,51.8,252.4,53.4,252.4,54.6,249.6,55.4,244.7,58.2,244.7,59.7,241,61,245.8,62.3,249.9,63.9,245.8,65.1,244.7,68.3,245.5,69.9,244.4,71.5,244.7,72.8,248.4,76,248.4,77.6,246.2,79.6,247.7,83.7,248.8,86.1,247.3,88.9,249.6,90.5,245.8,92.6,248,95.5,248.3,98,245.1,101.3,247.7,102.9,249.6,105.7,249.6,107.3,247.7,111.4,247.3,113.4,240.3,115,239.9,117.8,243.6,119.9,251.8,122.3,251.8,123.9,253.3,125.1,262.2,127.9,263,128.7,254,131.2,256.3,134,261.5,136.7,254.8,139.6,261.1,141.7,252.9,144.1,249.8,144.9,254,148.1,254.8,148.9,249.6,151.4,245.5,153,247,154.2,251.4,157,252.2,157.8,255.2,160.6,254.8,162.3,251.4,164.3,255.5,166.3,260.4,169.9,256.3,172.8,261.9,175.6,260.4,178,264,179.6,261.9,181.2,262.6,186.5,261.5,187.7,265.2,189.7,265.6,191.7,262.6,192.7,268.6,193.8,268.9,197,267.8,197.8,265.2,199.8,265.6,202.6,267.4,204.3,266,206.3,266.7,207.5,264.1,210.3,265.6,211.9,264.8,214.8,260,216.8,261.9,217.7,266.7,219.3,267.1,221.8,266,223,267.8,225,268.2,229,272.7,231,268.9,234.3,266.3,237.1,261.9,241.1,260,242.4,262.6,244.4,259.3,249.6,263,253.7,259.6,256.9,264.5,258.9,264.8,261.3,269.3,262.5,271.5,264.2,271.5,265,268.9,267,275.3,269,273.8,271,272.3,272.6,274.9,273.9,274.9,275.3,278.3,275.9,291.3,277.1,294.3,278.5,291.7,279.9,300.2,281.1,302.5,283.1,301.4,284.4,302.1,285.8,300.2,287.6,307.7,288.8,311.8,289.6,312.2,290.8,305.5,292,300.6,292.8,303.2,293.9,293.9,295.7,298.7,296.7,295,297.7,295.4,298.9,298.7,300,292,301.7,291.7,302.9,292.4,305,295.8,307,298.7,307.8,306.2,309,308.4,312.2,323.3,313.8,317.4,315,319.6,316.3,317,317.6,310.7,319.5,317,321.5,318.1,323.9,315.1,325.6,317.4,326.5,323.3,328.4,327,330.8,318.1,331.8,321.5,334,321.1,334.8,315.5,336,324.8,337.3,325.6,339.3,313.7];
const y2019=[0.5,269.8,4.5,269.8,5.5,266.3,8.2,266.3,9.4,267.8,10.2,271,12.6,271,14.2,277.5,16.6,277.5,18.6,280.1,23.1,280.1,26.8,281.6,27.1,287.4,29.6,287.4,30.4,298,32.2,300.1,34.4,298.4,35.6,298.2,37.2,294.3,38.5,298,40.5,299.1,42.5,295.4,43.7,294.3,44.3,290.4,46.5,292.4,47.7,290.2,49.4,292.4,50.4,288.3,52.6,290.9,54.2,296.1,55.4,298.4,57.2,296.1,58.2,299.9,59.5,297.3,60.7,301.7,61.5,300.2,62.7,303.6,64.7,303.6,66.7,305.1,67.5,302.1,69.3,306,73.6,305.8,75.2,307.7,76,311.8,78.4,312.5,80.4,303.6,81.3,307.3,82.1,305,83.3,306.9,84.5,302.5,85.7,306.6,86.9,305.1,88.1,298,89.2,295,90.5,300.6,91.8,296.1,93.2,298.4,94.2,294.3,95.3,292,96.8,292.8,98.5,295,99.7,290.6,100.5,293.5,102.9,292,104.5,288.3,105.7,290.6,107.7,281.6,108.5,279.4,109.8,281.2,111.8,277.1,112.6,281.2,113.4,277.5,117.4,279,120.3,273.4,121.9,275.6,122.7,281.2,124.3,275.3,126.3,273.4,127.9,279,130.4,277.5,133.6,278.6,135.6,277.1,137.6,279.7,138.3,285.3,139.2,280.9,140.9,280.5,143.7,283.8,145.7,280.9,146.5,276,147.7,275.6,149.3,269.7,150.5,277.1,152.6,274.5,154.6,266.7,155.8,266,158.2,257.8,159.8,248.8,161.6,242.9,163.5,251.8,164.7,253.3,166.3,258.1,167.9,254,169.1,252.1,171.1,248.1,172.8,242.1,174.6,255.5,176.4,251,180,252.5,181.6,254.8,186.5,258.9,188.5,253.7,191.7,258.9,193.4,252.9,196.6,254,198.6,244.4,199.8,248.4,201.4,247,203,247.7,204.7,254.4,205.9,250.3,207.9,248.1,209.9,247.7,211.9,245.5,214.4,245.8,215.7,244,218.5,245.8,220.1,241.4,221.8,246.2,224.6,246.6,226.6,240.3,229,241,230.6,243.6,234.3,242.1,236,241.8,239.1,237.6,240.7,239.9,241.9,246.2,244.4,247.3,247.6,245.8,248.4,240.6,250.4,243.2,251.2,239.5,252.5,238.8,254.9,245.1,256.9,241.7,259.7,244.7,261.7,242.9,263,244,264.6,241.7,267,241,268,243.6,270.8,238.8,273.2,243.6,275,241.7,276.7,241.7,277.9,239.1,279.5,241.7,281.5,241,283.1,238,286.8,231.7,289.6,231.3,292,232.4,293.6,235.8,295.7,231.7,298.1,233.9,300.1,232.8,301.3,226.5,302.5,228,304.1,226.1,305.2,228.8,307.4,228.8,309,225,312.6,221.3,314.2,223.5,315.2,220.5,316.3,223.5,318.7,218.6,320.7,219.8,323.1,214.5,324.3,209.3,326.8,209,327.6,213.4,330.4,214.2,332,216,332.8,223.5,334.4,226.5,336,222.4,337.3,225.3,339.3,226.1,340.9,232.1];
const y2020=[19.9,250.2,22.3,250.2,23.5,252.2,24.3,250,26.3,247,28.1,250,29.4,248,30.8,251.4,33.2,248.2,34.4,251.2,36,250.7,37.2,248,38.4,247.7,40.4,244.4,41.5,241.7,42.5,243.2,43.7,240.3,45.3,241.4,46.5,240.3,47.7,244,48.5,244.4,50.2,242.6,52.6,246.7,53.8,245.6,59.5,245.6,62.3,243.8,63.5,243.8,68.3,241.4,69.5,239.9,71.9,239.5,74.4,236.9,75.2,230.2,76.4,232,78.4,228,81.3,233.2,83.3,228.7,85.7,230.2,86.1,235.4,88.1,235.4,89.3,232.4,91.8,240.3,93.4,239.1,95.6,243.2,98,248.7,99.2,247.9,100.5,245.5,101.7,245.8,102.5,244.4,103.7,245.8,104.5,241,105.3,243.6,106.5,241,107.7,245.1,109.8,245.1,110.4,250.7,111.4,244.7,113.4,246.2,115.8,241.7,117.6,243.6,118.6,237.6];
const years=['2007','2008','2009','2010','2011','2012','2013','2014','2015','2016','2017','2018','2019','2020'];
const yearData=[y2007,y2008,y2009,y2010,y2011,y2012,y2013,y2014,y2015,y2016,y2017,y2018,y2019,y2020];
const colors=['#C0504D','#7F7F7F','#C97B36','#4A86BF','#9C5A14','#0B6B0B','#000000','#FF00FF','#0000FF','#8064A2','#9BBB59','#FF0000','#0000CC','#000000'];
const widths=[4,2.7,2.4,2.4,2.4,2.4,2.3,2.4,2.4,2.4,6.8,8,8.5,7.5];
const step=10.05;
// readings past day 215.7 were taken on a slightly finer scale; bring them onto the common day scale
const fixDay=d=>d>215.7?215.7+(d-215.7)*0.9742:d;
const pairs=a=>{const o=[];for(let i=0;i<a.length;i+=2)o.push([fixDay(a[i]),a[i+1]]);return o.sort((p,q)=>p[0]-q[0]);};
const F='"Liberation Sans",Arial,sans-serif';
const legendBase=(left,top,from,to,gap)=>({left,top,orient:'horizontal',itemWidth:60,itemHeight:14,itemGap:gap,itemStyle:{opacity:0},
 data:years.slice(from,to).map((name,k)=>({name,lineStyle:{width:widths[from+k]*0.85,color:colors[from+k],cap:'round'}})),
 textStyle:{fontFamily:F,fontWeight:'bold',fontSize:22,color:'#000'},selectedMode:false,padding:0,width:1700});
const chart=echarts.init(document.getElementById('c'),null,{renderer:'canvas'});
chart.setOption({animation:false,backgroundColor:'#fff',
 grid:{left:144,top:26,height:984,width:1664.3,show:false,outerBoundsMode:'none',containLabel:false},
 legend:[legendBase(214,938,0,7,119.6),legendBase(214,972,7,10,119.6),legendBase(916,972,10,14,117.6)],
 xAxis:{type:'value',min:0,max:340,interval:step,splitLine:{show:false},axisTick:{show:false},
  axisLine:{show:true,onZero:false,lineStyle:{color:'#000',width:2}},
  axisLabel:{rotate:90,margin:23,fontFamily:F,fontWeight:'bold',fontSize:37,color:'#000',hideOverlap:false,showMinLabel:true,showMaxLabel:false,
   formatter:v=>{const k=Math.round(v/step);return Math.abs(k*step-v)<0.01&&tickLabels[k]?tickLabels[k]:'';}}},
 yAxis:{type:'value',min:140,max:360,interval:20,name:'U$S/Ton.',nameLocation:'middle',nameGap:94,nameRotate:90,
  nameTextStyle:{fontFamily:F,fontWeight:'bold',fontSize:36,color:'#000',padding:[0,16,0,0]},
  axisLine:{show:true,onZero:false,lineStyle:{color:'#000',width:2}},axisTick:{show:true,length:11,lineStyle:{color:'#000',width:2}},
  splitLine:{show:true,lineStyle:{color:'#000',width:2}},
  axisLabel:{margin:33,fontFamily:F,fontWeight:'bold',fontSize:35,color:'#000'}},
 series:years.map((n,i)=>({name:n,type:'line',data:pairs(yearData[i]),showSymbol:false,symbol:'none',clip:true,smooth:false,z:2+i,
   lineStyle:{color:colors[i],width:widths[i],join:'round',cap:'round'},itemStyle:{color:colors[i]}})),
 graphic:[
  {type:'text',z:50,style:{text:'Desde la apertura hasta la expiración de la posición',x:952,y:17,align:'center',verticalAlign:'bottom',font:'bold 42.6px '+F,fill:'#000'}},
  {type:'text',z:50,x:247,y:73,scaleX:1.05,style:{text:'PERO,',x:0,y:0,align:'left',verticalAlign:'middle',font:'bold 92px "DejaVu Serif"',fill:'#000',stroke:'#000',lineWidth:6}},
  ...[655,714,773].map(x=>({type:'text',z:50,style:{text:'.',x,y:71,align:'center',verticalAlign:'middle',font:'bold 92px "DejaVu Serif"',fill:'#000',stroke:'#000',lineWidth:11}})),
  {type:'ellipse',z:40,shape:{cx:642.5,cy:536.5,rx:96,ry:95},style:{fill:'rgba(250,190,0,0.32)',stroke:'#3D6491',lineWidth:4.5}}
 ]});
</script></body></html>
